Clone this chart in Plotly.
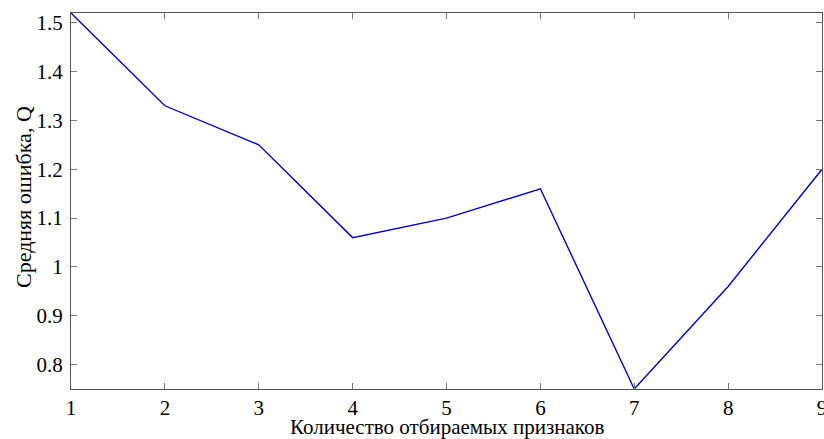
import plotly.graph_objects as go

# Number of selected features vs. mean error
features = [1, 2, 3, 4, 5, 6, 7, 8, 9]
mean_error = [1.52, 1.33, 1.25, 1.06, 1.10, 1.16, 0.75, 0.96, 1.20]

x_ticks = [1, 2, 3, 4, 5, 6, 7, 8, 9]
y_ticks = [0.8, 0.9, 1.0, 1.1, 1.2, 1.3, 1.4, 1.5]
y_tick_labels = ["0.8", "0.9", "1", "1.1", "1.2", "1.3", "1.4", "1.5"]

x_title = "Количество отбираемых признаков"
y_title = "Средняя ошибка, Q"

font_family = "Liberation Serif, Times New Roman, serif"

fig = go.Figure()
fig.add_trace(go.Scatter(
    x=features, y=mean_error, mode="lines",
    line=dict(color="#0000c8", width=1.4),
    showlegend=False,
))

axis_common = dict(
    showline=True, linecolor="#555555", linewidth=1.2, mirror="ticks",
    ticks="inside", ticklen=6, tickcolor="#777777", tickwidth=1,
    showgrid=False, zeroline=False, automargin=False,
    tickfont=dict(family=font_family, size=21, color="black"),
    ticklabeloverflow="allow",
)

fig.update_layout(
    width=824, height=439,
    margin=dict(l=71, r=2, t=13, b=50),
    paper_bgcolor="white", plot_bgcolor="white",
    xaxis=dict(range=[1, 9], tickvals=x_ticks,
               ticktext=[str(v) for v in x_ticks], ticklabelstandoff=0,
               **axis_common),
    yaxis=dict(range=[0.75, 1.52], tickvals=y_ticks,
               ticktext=y_tick_labels, ticklabelstandoff=3,
               **axis_common),
    annotations=[
        dict(text=x_title, xref="paper", yref="paper", x=0.5, y=0,
             xanchor="center", yanchor="top", yshift=-24, showarrow=False,
             font=dict(family=font_family, size=21, color="black")),
        dict(text=y_title, xref="paper", yref="paper", x=0, y=0.5,
             xanchor="center", yanchor="middle", xshift=-48, yshift=4,
             textangle=-90, showarrow=False,
             font=dict(family=font_family, size=22, color="black")),
    ],
)

fig.write_html("out.html")
